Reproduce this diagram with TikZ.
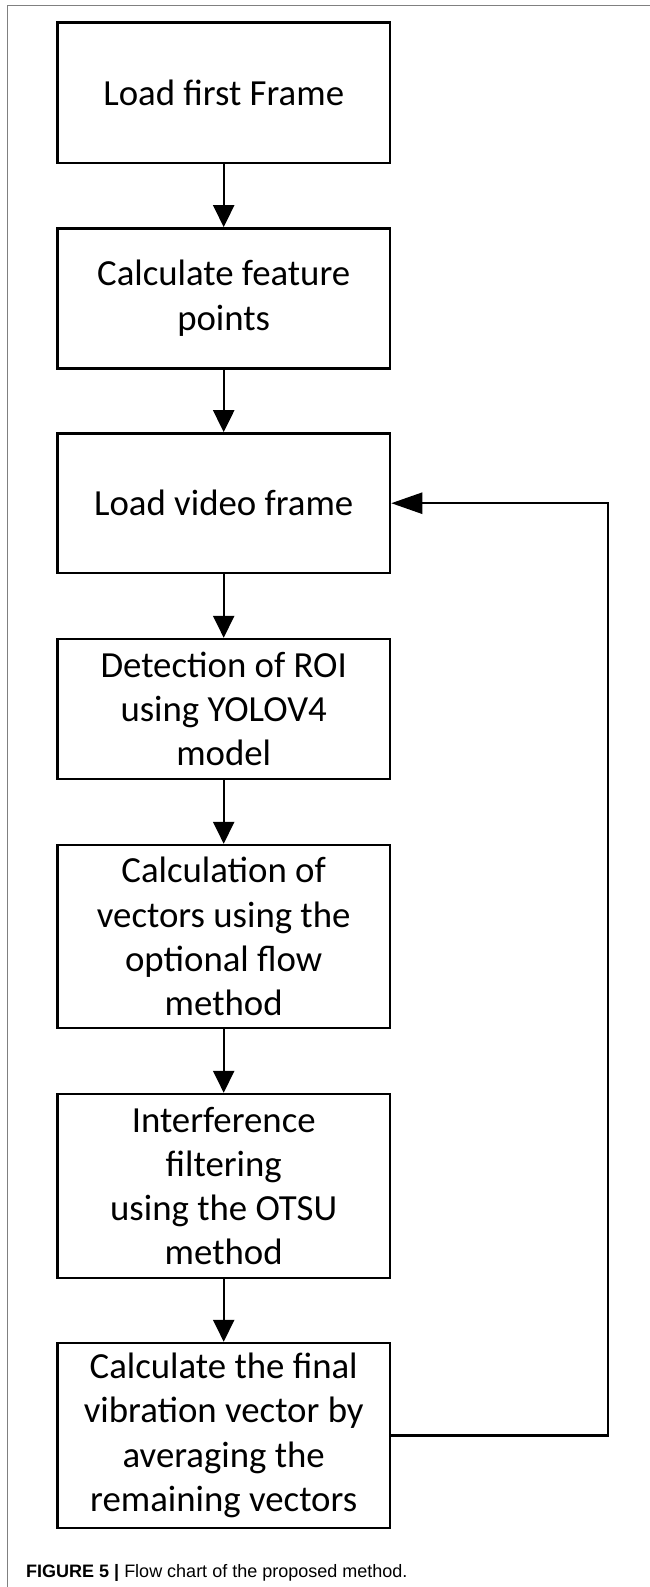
\documentclass[tikz,border=0pt]{standalone}
\usepackage{fontspec}
\setmainfont{Carlito}
\newfontfamily\capfont{Liberation Sans}
\usetikzlibrary{arrows.meta}
\begin{document}
\begin{tikzpicture}[x=1pt,y=1pt,
  stepbox/.style={draw, line width=2.4pt, minimum width=332.7pt, inner sep=0pt,
    align=center, font=\fontsize{36.8}{44.3}\selectfont},
  flow/.style={line width=2.4pt, -{Triangle[length=22pt,width=21pt]}},
  back/.style={line width=2.4pt, -{Triangle[length=31pt,width=21pt]}},
  frame/.style={draw=black!50, line width=1pt}]
\useasboundingbox (0,0) rectangle (650,-1587);
\draw[frame] (7,-1587) -- (7,-6) -- (650,-6);
\node[stepbox, minimum height=140pt] (b1) at (223.7,-92.7) {Load first Frame};
\node[stepbox, minimum height=140pt] (b2) at (223.7,-298.3) {Calculate feature\\points};
\node[stepbox, minimum height=139.7pt] (b3) at (223.7,-503.2) {Load video frame};
\node[stepbox, minimum height=140pt] (b4) at (223.7,-709) {Detection of ROI\\using YOLOV4\\model};
\node[stepbox, minimum height=183pt] (b5) at (223.7,-936.5) {Calculation of\\vectors using the\\optional flow\\method};
\node[stepbox, minimum height=184pt] (b6) at (223.7,-1186) {Interference\\filtering\\using the OTSU\\method};
\node[stepbox, minimum height=185pt] (b7) at (223.7,-1435.5) {Calculate the final\\vibration vector by\\averaging the\\remaining vectors};
\draw[flow] (b1) -- (b2);
\draw[flow] (b2) -- (b3);
\draw[flow] (b3) -- (b4);
\draw[flow] (b4) -- (b5);
\draw[flow] (b5) -- (b6);
\draw[flow] (b6) -- (b7);
\coordinate (r1) at (608,-1435.5);
\coordinate (r2) at (608,-503.2);
\draw[back] (b7.east) -- (r1) -- (r2) -- (b3.east);
\node[anchor=west, inner sep=0pt, font=\capfont\fontsize{18}{22}\selectfont] (cap) at (26,-1573)
  {\textbf{FIGURE 5 |} Flow chart of the proposed method.};
\end{tikzpicture}
\end{document}
